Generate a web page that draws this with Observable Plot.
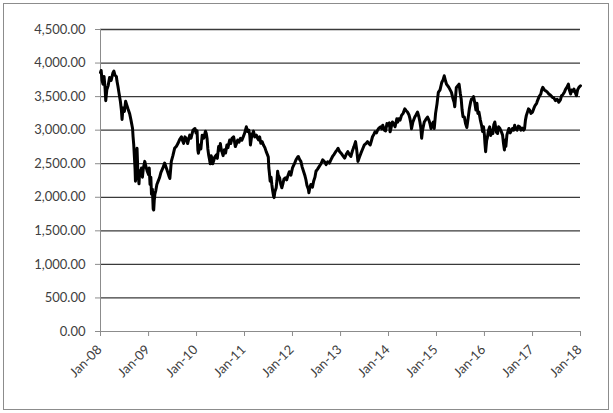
<!DOCTYPE html>
<html><head><meta charset="utf-8">
<script src="https://cdn.jsdelivr.net/npm/d3@7"></script>
<script src="https://cdn.jsdelivr.net/npm/@observablehq/plot@0.6"></script>
<style>
html,body{margin:0;padding:0;background:#fff;}
#wrap{position:relative;width:613px;height:413px;overflow:hidden;}
#frame{position:absolute;left:3px;top:3px;width:604px;height:405px;border:1px solid #8c8c8c;pointer-events:none;}
#chart svg{display:block;}
</style></head><body>
<div id="wrap"><div id="chart"></div><div id="frame"></div></div>
<script>
// Index level series
const dates = [
"2008-01-01","2008-01-06","2008-01-13","2008-01-20","2008-01-28","2008-02-05","2008-02-10","2008-02-18","2008-02-28","2008-03-10","2008-03-22","2008-04-05","2008-04-12","2008-04-20","2008-05-01","2008-05-05","2008-05-13","2008-05-20","2008-06-01","2008-06-08","2008-06-13","2008-06-20","2008-07-01","2008-07-10","2008-07-18","2008-07-28","2008-08-10","2008-08-20","2008-09-01","2008-09-05","2008-09-10","2008-09-15","2008-09-20","2008-09-23","2008-09-28","2008-10-03","2008-10-05","2008-10-10","2008-10-15","2008-10-20","2008-10-25","2008-11-02","2008-11-08","2008-11-15","2008-11-22","2008-12-03","2008-12-10","2008-12-15","2008-12-23",
"2009-01-01","2009-01-06","2009-01-12","2009-01-18","2009-01-23","2009-01-30","2009-02-05","2009-02-09","2009-02-13","2009-02-18","2009-02-25","2009-03-05","2009-03-15","2009-03-25","2009-04-05","2009-04-20","2009-05-03","2009-05-12","2009-05-20","2009-06-05","2009-06-12","2009-06-23","2009-07-05","2009-07-18","2009-08-01","2009-08-13","2009-08-25","2009-09-08","2009-09-15","2009-09-25","2009-10-05","2009-10-15","2009-10-25","2009-11-10","2009-11-20","2009-12-05","2009-12-20","2009-12-28",
"2010-01-05","2010-01-11","2010-01-15","2010-01-26","2010-02-03","2010-02-13","2010-02-25","2010-03-10","2010-03-16","2010-03-22","2010-03-28","2010-04-03","2010-04-10","2010-04-15","2010-04-22","2010-04-28","2010-05-04","2010-05-10","2010-05-20","2010-06-01","2010-06-08","2010-06-18","2010-06-25","2010-07-01","2010-07-07","2010-07-13","2010-07-22","2010-08-01","2010-08-10","2010-08-20","2010-08-28","2010-09-10","2010-09-18","2010-09-28","2010-10-10","2010-10-16","2010-10-23","2010-11-01","2010-11-10","2010-11-20","2010-12-01","2010-12-12","2010-12-22",
"2011-01-01","2011-01-08","2011-01-15","2011-01-24","2011-02-02","2011-02-10","2011-02-15","2011-02-22","2011-03-01","2011-03-10","2011-03-20","2011-04-01","2011-04-10","2011-04-18","2011-04-26","2011-05-05","2011-05-15","2011-05-25","2011-06-05","2011-06-15","2011-06-25","2011-07-01","2011-07-05","2011-07-10","2011-07-15","2011-07-22","2011-07-28","2011-08-03","2011-08-10","2011-08-14","2011-08-20","2011-08-30","2011-09-05","2011-09-10","2011-09-15","2011-09-25","2011-10-03","2011-10-12","2011-10-20","2011-10-28","2011-11-08","2011-11-18","2011-11-26","2011-12-08","2011-12-20",
"2012-01-01","2012-01-16","2012-01-28","2012-02-10","2012-02-15","2012-02-25","2012-03-05","2012-03-15","2012-03-25","2012-04-05","2012-04-12","2012-04-20","2012-05-01","2012-05-05","2012-05-13","2012-05-20","2012-06-01","2012-06-10","2012-06-20","2012-06-28","2012-07-10","2012-07-23","2012-08-05","2012-08-18","2012-09-01","2012-09-13","2012-09-25","2012-10-08","2012-10-20","2012-11-01","2012-11-13","2012-11-25","2012-12-03","2012-12-13","2012-12-25",
"2013-01-05","2013-01-18","2013-02-01","2013-02-13","2013-02-25","2013-03-08","2013-03-20","2013-04-01","2013-04-13","2013-04-25","2013-05-03","2013-05-13","2013-05-25","2013-06-05","2013-06-18","2013-07-01","2013-07-13","2013-07-25","2013-08-05","2013-08-15","2013-08-25","2013-09-01","2013-09-12","2013-09-20","2013-10-01","2013-10-10","2013-10-20","2013-11-01","2013-11-10","2013-11-18","2013-12-01","2013-12-10","2013-12-20",
"2014-01-01","2014-01-08","2014-01-13","2014-01-22","2014-01-31","2014-02-10","2014-02-20","2014-03-05","2014-03-12","2014-03-20","2014-03-30","2014-04-10","2014-04-22","2014-05-05","2014-05-15","2014-05-25","2014-06-05","2014-06-13","2014-06-20","2014-06-25","2014-07-05","2014-07-20","2014-07-30","2014-08-10","2014-08-20","2014-08-28","2014-09-04","2014-09-10","2014-09-17","2014-09-30","2014-10-12","2014-10-25","2014-11-05","2014-11-12","2014-11-20","2014-11-28","2014-12-08","2014-12-15","2014-12-25",
"2015-01-05","2015-01-15","2015-01-28","2015-02-10","2015-02-20","2015-03-01","2015-03-10","2015-03-18","2015-03-28","2015-04-05","2015-04-15","2015-04-25","2015-05-05","2015-05-15","2015-05-20","2015-06-01","2015-06-12","2015-06-22","2015-07-01","2015-07-08","2015-07-15","2015-07-22","2015-08-01","2015-08-10","2015-08-20","2015-08-28","2015-09-08","2015-09-18","2015-09-25","2015-10-01","2015-10-10","2015-10-20","2015-10-28","2015-11-05","2015-11-12","2015-11-20","2015-12-01","2015-12-10","2015-12-18","2015-12-25",
"2016-01-01","2016-01-05","2016-01-10","2016-01-18","2016-01-22","2016-02-01","2016-02-10","2016-02-18","2016-02-25","2016-03-05","2016-03-12","2016-03-20","2016-04-01","2016-04-10","2016-04-18","2016-04-28","2016-05-08","2016-05-18","2016-05-25","2016-06-01","2016-06-05","2016-06-12","2016-06-20","2016-06-28","2016-07-05","2016-07-15","2016-08-01","2016-08-10","2016-08-18","2016-08-25","2016-09-05","2016-09-15","2016-09-25","2016-10-05","2016-10-15","2016-10-25","2016-11-01","2016-11-08","2016-11-15","2016-11-25","2016-12-01","2016-12-10","2016-12-20",
"2017-01-01","2017-01-10","2017-01-20","2017-02-01","2017-02-08","2017-02-20","2017-03-05","2017-03-12","2017-03-20","2017-04-01","2017-04-10","2017-04-22","2017-05-05","2017-05-18","2017-06-01","2017-06-12","2017-06-25","2017-07-08","2017-07-20","2017-08-01","2017-08-10","2017-08-20","2017-09-01","2017-09-10","2017-09-20","2017-10-01","2017-10-08","2017-10-18","2017-10-25","2017-11-05","2017-11-12","2017-11-22","2017-12-01","2017-12-10","2017-12-20","2018-01-01"
];
const values = [
3860,3890,3740,3686,3800,3620,3440,3600,3660,3784,3740,3857,3880,3820,3800,3735,3650,3563,3420,3300,3160,3330,3280,3430,3380,3318,3245,3150,3025,2900,2780,2600,2420,2240,2450,2650,2730,2450,2300,2200,2390,2360,2437,2300,2430,2535,2470,2437,2380,
2338,2437,2190,2300,2045,2120,1825,1810,1950,2045,2100,2190,2240,2290,2370,2437,2510,2460,2413,2315,2280,2535,2620,2730,2760,2804,2860,2902,2850,2804,2900,2877,2800,2926,2880,3000,3025,2960,
2990,2700,2657,2780,2720,2926,2880,2985,2950,2877,2720,2632,2560,2500,2620,2583,2500,2535,2600,2632,2580,2755,2700,2800,2720,2680,2620,2706,2660,2780,2740,2853,2800,2877,2900,2840,2755,2800,2853,2820,2877,2850,2900,
2950,3000,3050,2980,3000,2930,2780,2877,2940,2985,2900,2926,2880,2853,2900,2804,2830,2780,2740,2680,2632,2600,2437,2350,2240,2300,2190,2100,2020,1995,2080,2142,2250,2388,2330,2290,2200,2142,2200,2270,2290,2260,2314,2380,2330,
2437,2500,2559,2600,2608,2560,2535,2450,2388,2320,2265,2180,2118,2068,2150,2190,2150,2240,2300,2388,2420,2461,2500,2559,2530,2486,2530,2510,2560,2608,2640,2680,2700,2730,2680,
2657,2620,2583,2640,2680,2640,2608,2690,2755,2829,2720,2535,2600,2657,2720,2780,2800,2829,2800,2780,2850,2902,2940,2975,2960,3000,3030,3050,3020,3073,3000,2990,3098,
3073,3110,2975,3050,3122,3090,3050,3171,3120,3171,3150,3220,3250,3318,3290,3270,3230,3171,3100,3020,3120,3196,3230,3270,3200,3122,3030,2880,3000,3122,3160,3196,3147,3100,3025,3080,3122,3025,3250,
3392,3563,3600,3710,3750,3810,3740,3686,3660,3637,3600,3563,3480,3416,3350,3637,3660,3686,3550,3465,3300,3200,3196,3100,3040,3150,3318,3420,3465,3465,3500,3400,3300,3400,3250,3270,3150,3073,2980,3050,
2926,2800,2680,2850,2877,3000,3050,2920,3000,2950,3080,3122,2970,2950,3050,3025,2980,2926,2800,2706,2850,2760,2930,2980,3025,2960,3025,3000,3073,3020,3000,3060,3050,3000,3030,3000,3020,3150,3220,3280,3318,3300,3250,
3270,3320,3367,3400,3441,3500,3539,3600,3637,3600,3588,3570,3539,3520,3490,3480,3441,3460,3416,3450,3515,3530,3570,3612,3640,3686,3600,3539,3600,3580,3612,3560,3515,3600,3637,3661
];
const yTicks = [0,500,1000,1500,2000,2500,3000,3500,4000,4500];
const xTickDates = ["2008-01-01","2009-01-01","2010-01-01","2011-01-01","2012-01-01","2013-01-01","2014-01-01","2015-01-01","2016-01-01","2017-01-01","2018-01-01"];
const xTickLabels = ["Jan-08","Jan-09","Jan-10","Jan-11","Jan-12","Jan-13","Jan-14","Jan-15","Jan-16","Jan-17","Jan-18"];

const data = dates.map((d, i) => ({date: new Date(d + "T00:00:00Z"), value: values[i]}));
const tickDates = xTickDates.map(d => new Date(d + "T00:00:00Z"));
const labelOf = new Map(tickDates.map((d, i) => [+d, xTickLabels[i]]));

const chart = Plot.plot({
  width: 613,
  height: 413,
  marginLeft: 100,
  marginRight: 33,
  marginTop: 29,
  marginBottom: 82,
  style: {fontFamily: "Lato, 'Open Sans', sans-serif", fontSize: "13px", color: "#404040", background: "#fff"},
  x: {type: "utc", domain: [tickDates[0], tickDates[tickDates.length - 1]], label: null},
  y: {domain: [0, 4500], label: null},
  marks: [
    Plot.ruleY(yTicks.filter(d => d > 0), {stroke: "#3a3a3a", strokeWidth: 1.3}),
    Plot.ruleY([0], {stroke: "#8c8c8c", strokeWidth: 1}),
    Plot.ruleX([tickDates[0]], {stroke: "#8c8c8c", strokeWidth: 1}),
    Plot.axisY({ticks: yTicks, tickFormat: d3.format(",.2f"), tickSize: 5, tickPadding: 10, stroke: "#8c8c8c", fill: "#404040", fontSize: 13, label: null}),
    Plot.axisX({ticks: tickDates, tickFormat: () => "", tickSize: 5, stroke: "#8c8c8c", label: null}),
    Plot.text(tickDates, {x: d => d, text: d => labelOf.get(+d), frameAnchor: "bottom", rotate: -45, textAnchor: "end", dx: 2, dy: 19, fill: "#404040", fontSize: 13}),
    Plot.lineY(data, {x: "date", y: "value", stroke: "#000", strokeWidth: 3, strokeLinejoin: "round"})
  ]
});
document.getElementById("chart").appendChild(chart);
</script>
</body></html>
